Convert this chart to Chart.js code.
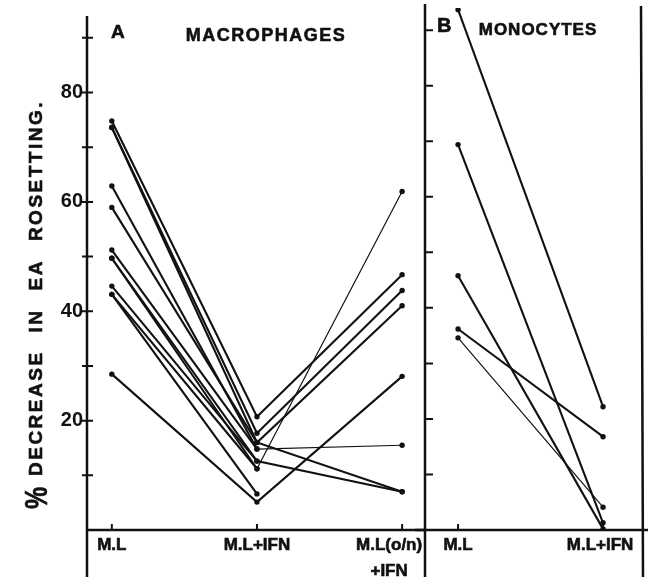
<!DOCTYPE html>
<html>
<head>
<meta charset="utf-8">
<script src="https://cdn.jsdelivr.net/npm/chart.js@4"></script>
<style>
  html, body { margin: 0; padding: 0; background: #fff; }
  #wrap { position: relative; width: 652px; height: 577px; overflow: hidden; }
  #wrap canvas { position: absolute; top: 0; }
  #chartA { left: 0; }
  #chartB { left: 415px; }
</style>
</head>
<body>
<div id="wrap">
  <canvas id="chartA" width="426" height="577"></canvas>
  <canvas id="chartB" width="237" height="577"></canvas>
</div>
<script>
// ---- data ----
const catsA = ['M.L', 'M.L+IFN', 'M.L(o/n)\n+IFN'];
const catsB = ['M.L', 'M.L+IFN'];
const yTickLabels = [20, 40, 60, 80];

// macrophages, one entry per subject
const macroML  = [74.8, 73.6, 73.6, 62.9, 59.0, 51.2, 49.7, 49.7, 44.6, 43.1, 43.1, 28.5];
const macroIFN = [20.7, 17.7, 16.0, 14.8, 16.0, 14.8, 12.6, 11.2, 12.6, 11.2, 6.6, 5.1];
const macroON  = [46.7, 43.8, 7.0, null, 41.0, 15.5, 7.0, null, null, 61.9, null, 28.1];

// monocytes
const monoML  = [93.7, 69.4, 45.8, 36.2, 34.6];
const monoIFN = [22.2, 1.3, 0.2, 16.8, 4.1];

// ---- style ----
const INK = '#111';
const FONT = '"Liberation Sans", Arial, sans-serif';
const thinA = { 5: 1, 9: 1 };   // subject index -> thin segment (0-based)
const thinB = { 4: 0 };

function buildSets(cols, thin) {
    const n = cols[0].length;
    const sets = [];
    for (let s = 0; s < n; s++) {
        const pts = [];
        cols.forEach((col, i) => {
            if (col[s] !== null) pts.push({ x: i, y: col[s] });
        });
        sets.push({
            data: pts,
            borderColor: INK,
            backgroundColor: INK,
            borderWidth: 2.1,
            pointRadius: 2.7,
            pointBorderWidth: 0,
            pointBackgroundColor: INK,
            segment: {
                borderWidth: c => (thin[s] === c.p0DataIndex ? 1.2 : 2.1)
            }
        });
    }
    return sets;
}

// filled text with a thin outline, to get the heavy print look
function inkText(ctx, text, x, y) {
    ctx.fillText(text, x, y);
    ctx.strokeText(text, x, y);
}

function drawLabels(ctx, scale, cats, y0, shiftLast) {
    ctx.font = 'bold 17px ' + FONT;
    ctx.fillStyle = INK;
    ctx.strokeStyle = INK;
    ctx.lineWidth = 0.6;
    ctx.textAlign = 'center';
    ctx.textBaseline = 'middle';
    cats.forEach((c, i) => {
        let px = scale.getPixelForValue(i);
        if (i === cats.length - 1) px += shiftLast;
        c.split('\n').forEach((line, k) => inkText(ctx, line, px, y0 + k * 26));
    });
}

function spacedText(ctx, text, x, y, spacing) {
    if ('letterSpacing' in ctx) ctx.letterSpacing = spacing + 'px';
    inkText(ctx, text, x, y);
    if ('letterSpacing' in ctx) ctx.letterSpacing = '0px';
}

const frameA = {
    id: 'frameA',
    afterDraw(chart) {
        const { ctx, chartArea: a, scales: { x, y } } = chart;
        ctx.save();
        ctx.strokeStyle = INK;
        ctx.lineWidth = 2.5;
        ctx.beginPath();
        ctx.moveTo(a.left, a.top);
        ctx.lineTo(a.left, chart.height);
        ctx.moveTo(a.left - 1, a.bottom);
        ctx.lineTo(chart.width, a.bottom);
        ctx.stroke();

        ctx.lineWidth = 2;
        ctx.beginPath();
        for (let v = 10; v <= 90; v += 10) {
            const py = y.getPixelForValue(v);
            ctx.moveTo(a.left - 5, py);
            ctx.lineTo(a.left + 6, py);
        }
        catsA.forEach((c, i) => {
            const px = x.getPixelForValue(i);
            ctx.moveTo(px, a.bottom);
            ctx.lineTo(px, a.bottom - 6);
        });
        ctx.stroke();

        drawLabels(ctx, x, catsA, 545, -13);

        // panel letter and title
        ctx.textAlign = 'left';
        ctx.font = 'bold 19px ' + FONT;
        inkText(ctx, 'A', 111, 33);
        ctx.textAlign = 'center';
        ctx.font = 'bold 18px ' + FONT;
        spacedText(ctx, 'MACROPHAGES', 266, 36, 1.5);

        // y axis title, rotated
        ctx.rotate(-Math.PI / 2);
        ctx.textBaseline = 'alphabetic';
        ctx.textAlign = 'left';
        ctx.save();
        ctx.translate(-509, 47);
        ctx.scale(0.78, 1);
        ctx.font = 'bold 32px ' + FONT;
        inkText(ctx, '%', 0, 0);
        ctx.restore();
        ctx.font = 'bold 19px ' + FONT;
        const words = ['DECREASE', 'IN', 'EA', 'ROSETTING.'];
        if ('letterSpacing' in ctx) ctx.letterSpacing = '2.5px';
        const widths = words.map(w => ctx.measureText(w).width);
        const total = widths.reduce((p, q) => p + q, 0);
        const gap = (476 - 100 - total) / (words.length - 1);
        let pos = -476;
        words.forEach((w, i) => {
            inkText(ctx, w, pos, 42);
            pos += widths[i] + gap;
        });
        if ('letterSpacing' in ctx) ctx.letterSpacing = '0px';
        ctx.restore();
    }
};

const frameB = {
    id: 'frameB',
    afterDraw(chart) {
        const { ctx, chartArea: a, scales: { x, y } } = chart;
        ctx.save();
        ctx.strokeStyle = INK;
        ctx.lineWidth = 2.5;
        ctx.beginPath();
        ctx.moveTo(a.left, 4);
        ctx.lineTo(a.left, chart.height);
        ctx.moveTo(0, a.bottom);
        ctx.lineTo(a.right + 8, a.bottom);
        ctx.moveTo(a.right + 1, 6);
        ctx.lineTo(a.right + 3, chart.height);
        ctx.stroke();

        ctx.lineWidth = 2;
        ctx.beginPath();
        for (let v = 10; v <= 90; v += 10) {
            const py = y.getPixelForValue(v);
            ctx.moveTo(a.left, py);
            ctx.lineTo(a.left + 8, py);
        }
        catsB.forEach((c, i) => {
            const px = x.getPixelForValue(i);
            ctx.moveTo(px, a.bottom);
            ctx.lineTo(px, a.bottom - 6);
        });
        ctx.stroke();

        drawLabels(ctx, x, catsB, 545, -3);

        ctx.textAlign = 'left';
        ctx.textBaseline = 'middle';
        ctx.font = 'bold 20px ' + FONT;
        inkText(ctx, 'B', 437 - 415, 26);
        ctx.textAlign = 'center';
        ctx.font = 'bold 17px ' + FONT;
        spacedText(ctx, 'MONOCYTES', 538 - 415, 30, 1);
        ctx.restore();
    }
};

function panelOptions(xmin, xmax, yWidth, padRight, showY) {
    return {
        responsive: false,
        animation: false,
        events: [],
        layout: { padding: { top: 8, right: padRight, left: 0, bottom: 0 } },
        plugins: { legend: { display: false }, tooltip: { enabled: false } },
        scales: {
            x: {
                type: 'linear',
                min: xmin,
                max: xmax,
                grid: { display: false, drawTicks: false },
                border: { display: false },
                ticks: { display: false },
                afterFit: s => { s.height = 47; }
            },
            y: {
                min: 0,
                max: 94,
                grid: { display: false, drawTicks: false },
                border: { display: false },
                ticks: {
                    display: showY,
                    stepSize: 10,
                    padding: 4,
                    color: INK,
                    font: { family: FONT, size: 20, weight: 'bold' },
                    callback: v => (yTickLabels.includes(v) ? String(v) : '')
                },
                afterFit: s => { s.width = yWidth; }
            }
        }
    };
}

document.addEventListener('DOMContentLoaded', function() {
    new Chart(document.getElementById('chartA'), {
        type: 'line',
        data: { datasets: buildSets([macroML, macroIFN, macroON], thinA) },
        options: panelOptions(-0.171, 2.137, 87, 1, true),
        plugins: [frameA]
    });

    new Chart(document.getElementById('chartB'), {
        type: 'line',
        data: { datasets: buildSets([monoML, monoIFN], thinB) },
        options: panelOptions(-0.228, 1.255, 10, 12, false),
        plugins: [frameB]
    });
});
</script>
</body>
</html>
